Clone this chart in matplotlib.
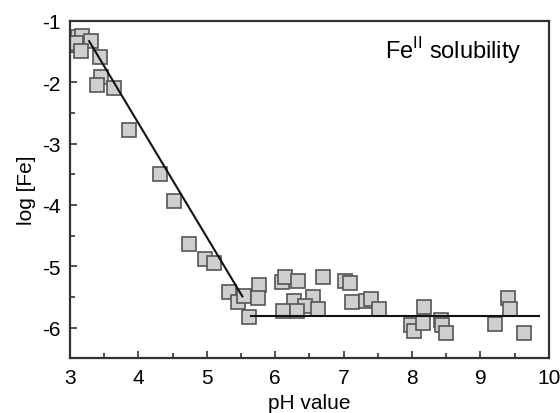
import matplotlib
matplotlib.use('Agg')
from matplotlib import pyplot as plt
from matplotlib.ticker import MultipleLocator
import numpy as np

plt.rcParams['font.family'] = ['Liberation Sans', 'DejaVu Sans']
plt.rcParams['mathtext.fontset'] = 'custom'
plt.rcParams['mathtext.rm'] = 'Liberation Sans'
plt.rcParams['axes.unicode_minus'] = False

# measured points (pH, log[Fe])
ph = [3.12, 3.17, 3.09, 3.31, 3.16, 3.44, 3.45, 3.39, 3.64, 3.86,
      4.32, 4.52, 4.74, 4.98, 5.10, 5.33, 5.45, 5.54, 5.76, 5.75, 5.61,
      6.10, 6.15, 6.33, 6.70, 7.02, 7.09, 6.27, 6.55, 6.43, 6.12, 6.32, 6.63,
      7.13, 7.33, 7.40, 7.52,
      8.18, 7.98, 8.03, 8.16, 8.42, 8.44, 8.49, 9.22, 9.41, 9.44, 9.64]
log_fe = [-1.26, -1.25, -1.36, -1.33, -1.49, -1.59, -1.92, -2.05, -2.10, -2.78,
          -3.49, -3.93, -4.64, -4.88, -4.95, -5.42, -5.58, -5.49, -5.31, -5.51, -5.83,
          -5.25, -5.17, -5.24, -5.17, -5.24, -5.27, -5.57, -5.50, -5.65, -5.73, -5.73, -5.70,
          -5.58, -5.57, -5.53, -5.69,
          -5.66, -5.95, -6.06, -5.92, -5.87, -5.95, -6.08, -5.94, -5.51, -5.69, -6.08]

# fitted lines
slope_x = [3.28, 5.52]
slope_y = [-1.33, -5.49]
flat_x = [5.65, 9.85]
flat_y = [-5.81, -5.81]

fig = plt.figure(figsize=(5.6, 4.14), dpi=100)
ax = fig.add_axes([0.125, 0.132, 0.855, 0.815])

ax.plot(ph, log_fe, 's', ms=9.5, mfc='#cfcfcf', mec='#555555', mew=1.2, zorder=2)
ax.plot(slope_x, slope_y, color='#111111', lw=1.5, zorder=3)
ax.plot(flat_x, flat_y, color='#111111', lw=1.5, zorder=3)

ax.set_xlim(3, 10)
ax.set_ylim(-6.5, -1)
ax.xaxis.set_major_locator(MultipleLocator(1))
ax.xaxis.set_minor_locator(MultipleLocator(0.5))
ax.yaxis.set_major_locator(MultipleLocator(1))
ax.yaxis.set_minor_locator(MultipleLocator(0.5))
ax.tick_params(which='both', direction='in', top=False, right=False,
               labelsize=15, color='#333333', width=1.2)
ax.tick_params(which='major', length=5, pad=7)
ax.tick_params(which='minor', length=3.5)
for s in ax.spines.values():
    s.set_linewidth(1.6)
    s.set_color('#333333')

ax.set_xlabel('pH value', fontsize=15, labelpad=4)
ax.set_ylabel('log [Fe]', fontsize=15, labelpad=4)
ax.text(0.944, 0.889, r'Fe$^{\mathregular{II}}$ solubility', transform=ax.transAxes,
        ha='right', va='baseline', fontsize=17)

fig.savefig('out.png', dpi=100)
